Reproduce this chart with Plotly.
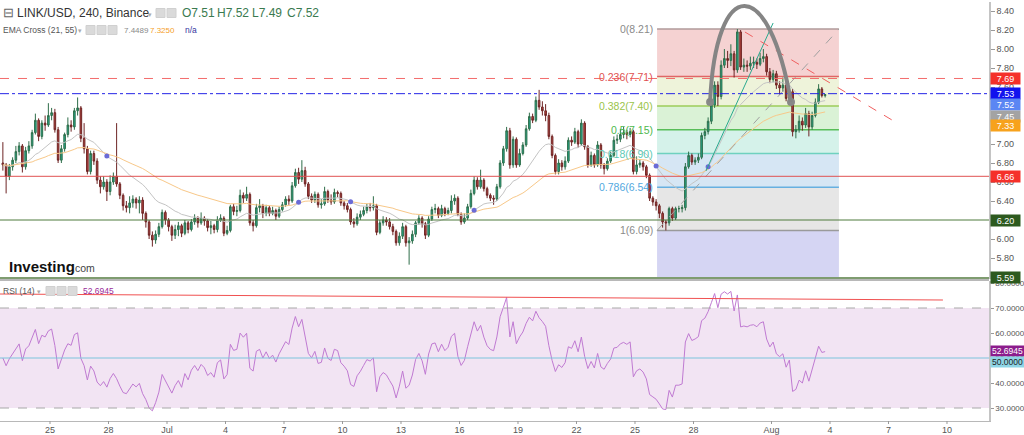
import numpy as np
import pandas as pd
import plotly.graph_objects as go

# ---------------- data ----------------
bar_start = "2020-06-22 12:00"   # first 4h bar
first_open = 6.80
closes = [
    6.78, 6.66, 6.76,                         # Jun 22
    6.83, 6.92, 6.98, 6.76, 6.93, 6.98,       # Jun 23
    7.12, 7.25, 7.08, 7.22, 7.20, 7.30,       # Jun 24
    7.33, 7.15, 6.83, 6.95, 7.10, 7.20,       # Jun 25
    7.18, 7.35, 7.38, 7.06, 6.95, 6.71,       # Jun 26
    6.90, 6.82, 6.62, 6.55, 6.60, 6.50,       # Jun 27
    6.60, 6.66, 6.58, 6.46, 6.35, 6.33,       # Jun 28
    6.38, 6.42, 6.38, 6.41, 6.27, 6.18,       # Jun 29
    6.04, 5.99, 6.05, 6.13, 6.28, 6.20,       # Jun 30
    6.13, 6.04, 6.10, 6.14, 6.06, 6.17,       # Jul 1
    6.10, 6.18, 6.22, 6.17, 6.22, 6.19,       # Jul 2
    6.12, 6.14, 6.10, 6.20, 6.22, 6.06,       # Jul 3
    6.09, 6.34, 6.29, 6.30, 6.46, 6.43,       # Jul 4
    6.47, 6.17, 6.14, 6.33, 6.35, 6.27,       # Jul 5
    6.33, 6.27, 6.30, 6.24, 6.31, 6.36,       # Jul 6
    6.42, 6.40, 6.56, 6.70, 6.63, 6.72,       # Jul 7
    6.58, 6.45, 6.41, 6.47, 6.36, 6.37,       # Jul 8
    6.50, 6.41, 6.39, 6.49, 6.48, 6.38,       # Jul 9
    6.35, 6.31, 6.18, 6.16, 6.23, 6.26,       # Jul 10
    6.30, 6.34, 6.33, 6.35, 6.07, 6.17,       # Jul 11
    6.20, 6.18, 6.13, 6.08, 5.96, 6.03,       # Jul 12
    6.13, 5.96, 5.98, 6.05, 6.17, 6.22,       # Jul 13
    6.16, 6.04, 6.21, 6.31, 6.32, 6.25,       # Jul 14
    6.32, 6.27, 6.30, 6.40, 6.43, 6.26,       # Jul 15
    6.18, 6.22, 6.34, 6.48, 6.62, 6.55,       # Jul 16
    6.62, 6.53, 6.46, 6.43, 6.42, 6.55,       # Jul 17
    6.80, 6.95, 7.14, 6.78, 7.05, 6.78,       # Jul 18
    6.90, 6.99, 7.16, 7.29, 7.25, 7.46,       # Jul 19
    7.39, 7.35, 7.30, 7.08, 6.88, 6.71,       # Jul 20
    6.80, 6.76, 6.82, 7.04, 7.02, 7.13,       # Jul 21
    7.00, 7.22, 6.97, 6.78, 6.88, 6.78,       # Jul 22
    6.99, 6.78, 6.74, 6.82, 6.88, 7.04,       # Jul 23
    7.05, 7.10, 7.12, 7.10, 7.13, 6.71,       # Jul 24
    6.78, 6.80, 6.76, 6.67, 6.43, 6.39,       # Jul 25
    6.35, 6.27, 6.18, 6.17, 6.32, 6.22,       # Jul 26
    6.32, 6.32, 6.33, 6.76, 6.88, 6.81,       # Jul 27
    6.83, 6.86, 7.09, 7.13, 7.24, 7.41,       # Jul 28
    7.62, 7.50, 7.83, 7.90, 7.88, 7.95,       # Jul 29
    7.78, 8.18, 7.81, 7.83, 7.82, 7.85,       # Jul 30
    7.86, 7.84, 7.90, 7.92, 7.76, 7.68,       # Jul 31
    7.74, 7.62, 7.59, 7.62, 7.48, 7.55,       # Aug 1
    7.13, 7.15, 7.24, 7.20, 7.32, 7.18,       # Aug 2
    7.30, 7.44, 7.58, 7.51, 7.52,             # Aug 3
]
highs = [
    7.02, 6.80, 6.79,
    6.86, 6.98, 7.02, 7.00, 6.97, 7.03,
    7.15, 7.32, 7.27, 7.25, 7.30, 7.43,
    7.38, 7.37, 7.18, 6.99, 7.12, 7.28,
    7.25, 7.38, 7.49, 7.40, 7.22, 6.98,
    6.93, 6.93, 6.85, 6.66, 6.66, 6.63,
    6.67, 6.70, 7.22, 6.60, 6.48, 6.40,
    6.45, 6.46, 6.44, 6.45, 6.44, 6.29,
    6.20, 6.08, 6.09, 6.17, 6.31, 6.30,
    6.22, 6.15, 6.15, 6.18, 6.16, 6.20,
    6.19, 6.21, 6.26, 6.24, 6.28, 6.24,
    6.21, 6.19, 6.16, 6.24, 6.26, 6.24,
    6.14, 6.36, 6.37, 6.35, 6.52, 6.49,
    6.55, 6.49, 6.20, 6.37, 6.42, 6.37,
    6.36, 6.35, 6.34, 6.32, 6.34, 6.39,
    6.45, 6.46, 6.60, 6.74, 6.75, 6.83,
    6.76, 6.60, 6.48, 6.50, 6.49, 6.42,
    6.55, 6.52, 6.47, 6.53, 6.51, 6.50,
    6.40, 6.38, 6.33, 6.22, 6.27, 6.30,
    6.34, 6.37, 6.38, 6.45, 6.37, 6.20,
    6.24, 6.23, 6.22, 6.16, 6.10, 6.07,
    6.17, 6.15, 6.02, 6.09, 6.19, 6.25,
    6.24, 6.18, 6.24, 6.34, 6.37, 6.34,
    6.36, 6.34, 6.33, 6.46, 6.47, 6.45,
    6.28, 6.27, 6.37, 6.52, 6.66, 6.65,
    6.73, 6.64, 6.55, 6.48, 6.46, 6.58,
    6.83, 6.98, 7.18, 7.17, 7.08, 7.07,
    6.95, 7.02, 7.20, 7.33, 7.32, 7.50,
    7.57, 7.45, 7.42, 7.33, 7.10, 6.90,
    6.84, 6.83, 6.87, 7.07, 7.08, 7.17,
    7.15, 7.26, 7.24, 6.99, 6.92, 6.90,
    7.03, 7.01, 6.80, 6.85, 6.92, 7.08,
    7.10, 7.16, 7.18, 7.15, 7.17, 7.15,
    6.87, 6.84, 6.82, 6.78, 6.69, 6.45,
    6.42, 6.37, 6.29, 6.20, 6.34, 6.34,
    6.34, 6.35, 6.36, 6.80, 6.92, 6.90,
    6.86, 6.90, 7.12, 7.17, 7.28, 7.45,
    7.66, 7.66, 7.88, 8.00, 7.98, 8.05,
    7.98, 8.21, 8.20, 7.90, 7.88, 7.92,
    7.92, 7.90, 7.96, 8.00, 7.95, 7.80,
    7.78, 7.77, 7.66, 7.70, 7.65, 7.60,
    7.58, 7.20, 7.30, 7.28, 7.38, 7.35,
    7.34, 7.48, 7.63, 7.60, 7.52,
]
lows = [
    6.72, 6.48, 6.62,
    6.72, 6.80, 6.88, 6.70, 6.73, 6.90,
    6.95, 7.10, 7.03, 7.05, 7.14, 7.18,
    7.25, 7.12, 6.80, 6.80, 6.92, 7.07,
    7.13, 7.15, 7.30, 7.02, 6.90, 6.68,
    6.68, 6.78, 6.58, 6.48, 6.52, 6.40,
    6.46, 6.57, 6.55, 6.42, 6.30, 6.28,
    6.27, 6.33, 6.32, 6.27, 6.20, 6.12,
    6.00, 5.92, 5.95, 6.02, 6.11, 6.15,
    6.08, 5.98, 6.00, 6.03, 6.02, 6.04,
    6.06, 6.08, 6.15, 6.12, 6.15, 6.14,
    6.08, 6.05, 6.06, 6.07, 6.18, 6.03,
    6.04, 6.07, 6.25, 6.24, 6.28, 6.38,
    6.40, 6.14, 6.08, 6.12, 6.28, 6.22,
    6.24, 6.24, 6.25, 6.20, 6.22, 6.29,
    6.34, 6.36, 6.38, 6.54, 6.58, 6.60,
    6.55, 6.42, 6.38, 6.38, 6.33, 6.32,
    6.35, 6.38, 6.36, 6.37, 6.44, 6.35,
    6.31, 6.28, 6.15, 6.12, 6.14, 6.20,
    6.24, 6.27, 6.29, 6.30, 6.04, 6.05,
    6.14, 6.14, 6.10, 6.04, 5.93, 5.93,
    6.00, 5.92, 5.73, 5.95, 6.02, 6.15,
    6.12, 6.00, 6.02, 6.19, 6.27, 6.22,
    6.23, 6.24, 6.25, 6.27, 6.36, 6.24,
    6.15, 6.16, 6.20, 6.32, 6.46, 6.52,
    6.53, 6.50, 6.43, 6.40, 6.36, 6.40,
    6.53, 6.77, 6.92, 6.74, 6.75, 6.75,
    6.76, 6.88, 6.97, 7.14, 7.22, 7.23,
    7.36, 7.30, 7.24, 7.05, 6.85, 6.68,
    6.68, 6.72, 6.73, 6.80, 6.98, 7.00,
    6.96, 6.98, 6.94, 6.75, 6.76, 6.75,
    6.76, 6.74, 6.68, 6.72, 6.80, 6.86,
    7.00, 7.02, 7.06, 7.05, 7.07, 6.68,
    6.68, 6.75, 6.72, 6.64, 6.40, 6.35,
    6.30, 6.22, 6.12, 6.09, 6.14, 6.19,
    6.20, 6.28, 6.28, 6.30, 6.74, 6.78,
    6.78, 6.80, 6.84, 7.05, 7.10, 7.21,
    7.38, 7.40, 7.47, 7.80, 7.80, 7.82,
    7.70, 7.75, 7.78, 7.76, 7.76, 7.78,
    7.80, 7.79, 7.82, 7.86, 7.72, 7.64,
    7.65, 7.58, 7.52, 7.55, 7.45, 7.42,
    7.08, 7.06, 7.12, 7.14, 7.17, 7.08,
    7.15, 7.28, 7.42, 7.49, 7.49,
]

tick_dates = ["2020-06-25", "2020-06-28", "2020-07-01", "2020-07-04", "2020-07-07",
              "2020-07-10", "2020-07-13", "2020-07-16", "2020-07-19", "2020-07-22",
              "2020-07-25", "2020-07-28", "2020-08-01", "2020-08-04", "2020-08-07",
              "2020-08-10"]
tick_text = ["25", "28", "Jul", "4", "7", "10", "13", "16", "19", "22", "25", "28",
             "Aug", "4", "7", "10"]

price_ticks = [5.8, 6.0, 6.2, 6.4, 6.6, 6.8, 7.0, 7.2, 7.4, 7.6, 7.8, 8.0, 8.2, 8.4]
rsi_ticks = [30, 40, 50, 60, 70, 80]

# header OHLC of the last bar
ohlc_labels = ["O7.51", "H7.52", "L7.49", "C7.52"]

# horizontal drawing lines (price, colour, dash, width)
hlines = [(7.69, "#f36b6b", "dash", 1), (7.53, "#2424e6", "dashdot", 1),
          (6.66, "#e05252", "solid", 1), (6.20, "#4f7a3c", "solid", 1),
          (5.59, "#7f9c70", "solid", 2)]
# price boxes on the right axis (value, background, text colour, pixel shift)
price_boxes = [(7.69, "#f5302a", "white", 0), (7.53, "#1212ee", "white", 0),
               (7.52, "#5b86f3", "white", -10), (7.45, "#a3a3a3", "white", -15),
               (7.33, "#f7a21c", "white", -13), (6.66, "#f5302a", "white", 0),
               (6.20, "#2d5a1f", "white", 0), (5.59, "#2d5a1f", "white", 0)]
rsi_boxes = [(52.6945, "#8c1c8c", "white", 0), (50.0, "#8ed5e6", "#222", -4)]

# fibonacci retracement
fib_low, fib_high = 6.09, 8.21
fib_start, fib_end = "2020-07-26 03:10", "2020-08-04 11:00"
fib_levels = [0, 0.236, 0.382, 0.5, 0.618, 0.786, 1]
fib_line_colors = ["#b09a9a", "#e06666", "#9ccc5a", "#58bd58", "#6fd1bf", "#67b0e0", "#9a9a9a"]
fib_fill_colors = ["#f5d2d2", "#eef3da", "#daf2d6", "#d5f2ea", "#d6e6f4", "#e6e6e6"]
fib_text_colors = ["#8a8a8a", "#e05050", "#9ac44a", "#4db84d", "#5ccab5", "#52a8e0", "#8a8a8a"]
fib_below_color = "#d5d5f3"

# other drawings (date, price)
teal_line = [("2020-07-28 15:20", 6.716), ("2020-08-01 02:00", 8.274)]
red_dash_line = [("2020-07-30 15:20", 8.179), ("2020-08-07 10:30", 7.221)]
arc_pts = [("2020-07-28 20:25", 7.442), ("2020-07-29 03:35", 8.79),
           ("2020-07-31 20:50", 8.79), ("2020-08-02 00:00", 7.442)]
rsi_trend = [("2020-06-22 10:28", 75.6), ("2020-08-09 19:00", 73.2)]

x_range = ["2020-06-22 10:28", "2020-08-12 03:42"]
price_range = [5.579, 8.495]
rsi_range = [24.8, 80.8]

# ---------------- helpers ----------------
REF = pd.Timestamp("2020-06-25")


def dnum(t):
    return (pd.Timestamp(t) - REF) / pd.Timedelta(days=1)


n = len(closes)
times = pd.date_range(bar_start, periods=n, freq="4h") + pd.Timedelta(hours=2)
xs = np.array([(t - REF) / pd.Timedelta(days=1) for t in times])
opens = [first_open] + closes[:-1]
c = np.array(closes)


def ema(vals, span):
    a = 2.0 / (span + 1)
    out = np.empty(len(vals))
    out[0] = vals[0]
    for i in range(1, len(vals)):
        out[i] = a * vals[i] + (1 - a) * out[i - 1]
    return out


ema21 = ema(c, 21)
ema55 = ema(c, 55)

# RSI (Wilder, 14); averages seeded neutral (history before the window is not shown)
diff = np.diff(c)
gain = np.clip(diff, 0, None)
loss = np.clip(-diff, 0, None)
rsi = np.full(n, np.nan)
P = 14
ag = al = 0.07
rsi[0] = 50.0
for i in range(1, n):
    ag = (ag * (P - 1) + gain[i - 1]) / P
    al = (al * (P - 1) + loss[i - 1]) / P
    rsi[i] = 100 * ag / (ag + al)

# EMA crosses (after warm-up)
d = ema21 - ema55
cross_idx = [i for i in range(15, n) if np.sign(d[i]) != np.sign(d[i - 1]) and d[i - 1] != 0]

# ---------------- figure ----------------
W, H = 1024, 435
ML, MR, MT, MB = 0, 35, 2, 14
PW, PH = W - ML - MR, H - MT - MB
P_TOP, P_BOT = 2, 279
R_TOP, R_BOT = 281, 421


def ppx(px):
    return (px - ML) / PW


def ppy(py):
    return (H - MB - py) / PH


fig = go.Figure()

fig.add_trace(go.Candlestick(
    x=xs, open=opens, high=highs, low=lows, close=closes,
    increasing=dict(line=dict(color="#2f6e4a", width=1), fillcolor="#22a88e"),
    decreasing=dict(line=dict(color="#6e2424", width=1), fillcolor="#b5443d"),
    whiskerwidth=0, xaxis="x", yaxis="y", showlegend=False, hoverinfo="skip"))

fig.add_trace(go.Scatter(x=xs, y=ema21, mode="lines", line=dict(color="#c4c4c4", width=1),
                         xaxis="x", yaxis="y", showlegend=False, hoverinfo="skip"))
fig.add_trace(go.Scatter(x=xs, y=ema55, mode="lines", line=dict(color="#f8c889", width=1),
                         xaxis="x", yaxis="y", showlegend=False, hoverinfo="skip"))
fig.add_trace(go.Scatter(x=[xs[i] for i in cross_idx], y=[ema21[i] for i in cross_idx],
                         mode="markers", marker=dict(color="#6b6bd6", size=5, symbol="circle"),
                         xaxis="x", yaxis="y", showlegend=False, hoverinfo="skip"))

# arc end points
fig.add_trace(go.Scatter(x=[dnum(arc_pts[0][0]), dnum(arc_pts[3][0])],
                         y=[arc_pts[0][1], arc_pts[3][1]], mode="markers",
                         marker=dict(color="#888888", size=8), xaxis="x", yaxis="y",
                         showlegend=False, hoverinfo="skip"))

fig.add_trace(go.Scatter(x=xs, y=rsi, mode="lines", line=dict(color="#c07ad2", width=1),
                         xaxis="x2", yaxis="y2", showlegend=False, hoverinfo="skip"))

shapes = []
# fib fills
fx0, fx1 = dnum(fib_start), dnum(fib_end)
lv_prices = [fib_high - l * (fib_high - fib_low) for l in fib_levels]
for k in range(len(fib_levels) - 1):
    shapes.append(dict(type="rect", xref="x", yref="y", x0=fx0, x1=fx1,
                       y0=lv_prices[k + 1], y1=lv_prices[k], fillcolor=fib_fill_colors[k],
                       line=dict(width=0), layer="below"))
shapes.append(dict(type="rect", xref="x", yref="y", x0=fx0, x1=fx1, y0=5.0, y1=fib_low,
                   fillcolor=fib_below_color, line=dict(width=0), layer="below"))
for k, p in enumerate(lv_prices):
    shapes.append(dict(type="line", xref="x", yref="y", x0=fx0, x1=fx1, y0=p, y1=p,
                       line=dict(color=fib_line_colors[k], width=1.5), layer="below"))
# fib diagonal
shapes.append(dict(type="line", xref="x", yref="y", x0=fx0, y0=fib_low, x1=fx1, y1=fib_high,
                   line=dict(color="#a0a0a0", width=1, dash="dash")))
# horizontal lines
for p, col, dash, wd in hlines:
    shapes.append(dict(type="line", xref="paper", yref="y", x0=0, x1=1, y0=p, y1=p,
                       line=dict(color=col, width=wd, dash=dash)))
# teal & red dashed trend lines
shapes.append(dict(type="line", xref="x", yref="y",
                   x0=dnum(teal_line[0][0]), y0=teal_line[0][1],
                   x1=dnum(teal_line[1][0]), y1=teal_line[1][1],
                   line=dict(color="#2aa98f", width=1)))
shapes.append(dict(type="line", xref="x", yref="y",
                   x0=dnum(red_dash_line[0][0]), y0=red_dash_line[0][1],
                   x1=dnum(red_dash_line[1][0]), y1=red_dash_line[1][1],
                   line=dict(color="#f06060", width=1, dash="dash")))
# arc
a = [(dnum(t), v) for t, v in arc_pts]
shapes.append(dict(type="path", xref="x", yref="y",
                   path=f"M {a[0][0]},{a[0][1]} C {a[1][0]},{a[1][1]} {a[2][0]},{a[2][1]} {a[3][0]},{a[3][1]}",
                   line=dict(color="#858585", width=4)))
# RSI band and levels
shapes.append(dict(type="rect", xref="paper", yref="y2", x0=0, x1=1, y0=30, y1=70,
                   fillcolor="#f2e4f3", line=dict(width=0), layer="below"))
for lv, col, dash in [(70, "#a8a8a8", "dash"), (30, "#a8a8a8", "dash"), (50, "#7cc4dc", "solid")]:
    shapes.append(dict(type="line", xref="paper", yref="y2", x0=0, x1=1, y0=lv, y1=lv,
                       line=dict(color=col, width=1, dash=dash)))
shapes.append(dict(type="line", xref="x2", yref="y2",
                   x0=dnum(rsi_trend[0][0]), y0=rsi_trend[0][1],
                   x1=dnum(rsi_trend[1][0]), y1=rsi_trend[1][1],
                   line=dict(color="#f05050", width=1)))
# pane separator
shapes.append(dict(type="line", xref="paper", yref="paper", x0=0, x1=1,
                   y0=ppy(280), y1=ppy(280), line=dict(color="#b8b8b8", width=2)))
# x tick marks below the bottom axis
tick_x = [dnum(t) for t in tick_dates]
for tx in tick_x:
    shapes.append(dict(type="line", xref="x2", yref="paper", x0=tx, x1=tx,
                       y0=ppy(421), y1=ppy(424), line=dict(color="#999", width=1)))

# header icons (small grey squares)
for x0 in [156, 167, 86, 97, 108]:
    yc = 13 if x0 > 150 else 30
    shapes.append(dict(type="rect", xref="paper", yref="paper", x0=ppx(x0), x1=ppx(x0 + 9),
                       y0=ppy(yc + 4.5), y1=ppy(yc - 4.5), fillcolor="#dadada",
                       line=dict(color="#d0d0d0", width=1)))
for x0 in [46, 57, 68]:
    shapes.append(dict(type="rect", xref="paper", yref="paper", x0=ppx(x0), x1=ppx(x0 + 9),
                       y0=ppy(295.5), y1=ppy(286.5), fillcolor="#dadada",
                       line=dict(color="#d0d0d0", width=1)))

FONT = "Liberation Sans, Arial, sans-serif"
ann = []


def txt(px, py, s, size, color, anchor="left", bold=False):
    ann.append(dict(xref="paper", yref="paper", x=ppx(px), y=ppy(py), text=(f"<b>{s}</b>" if bold else s),
                    showarrow=False, xanchor=anchor, yanchor="middle",
                    font=dict(family=FONT, size=size, color=color)))


txt(1, 13, "⊟", 13, "#666")
txt(15, 13, "LINK/USD, 240, Binance", 12, "#333")
txt(146, 14, "▾", 7, "#aaa")
for k, s in enumerate(ohlc_labels):
    txt(180 + 35 * k, 13, s, 12, "#3a7a4f")
txt(1, 30, "EMA Cross (21, 55)", 8.5, "#555")
txt(76, 30, "▾", 7, "#aaa")
txt(122, 30, "7.4489", 8, "#8a8a8a")
txt(148, 30, "7.3250", 8, "#f5a02a")
txt(183, 30, "n/a", 8.5, "#3535a0")
txt(1, 291, "RSI (14)", 8.5, "#555")
txt(35, 291, "▾", 7, "#aaa")
txt(81, 291, "52.6945", 8.5, "#9a2a9a")
txt(7, 266, "Investing", 15, "#111", bold=True)
txt(70, 268, ".com", 10.5, "#444")

# fib labels
for k, p in enumerate(lv_prices):
    ann.append(dict(xref="x", yref="y", x=fx0, y=p, xanchor="right", yanchor="middle",
                    xshift=-2, text=f"{fib_levels[k]:g}({p:.2f})", showarrow=False,
                    font=dict(family=FONT, size=10.5, color=fib_text_colors[k])))

# price boxes
for v, bg, fc, sh in price_boxes:
    ann.append(dict(xref="paper", yref="y", x=1, y=v, xanchor="left", yanchor="middle",
                    xshift=1, yshift=sh, text=f"{v:.2f}", showarrow=False, bgcolor=bg,
                    width=29, height=11, borderpad=0,
                    font=dict(family=FONT, size=9, color=fc)))
for v, bg, fc, sh in rsi_boxes:
    ann.append(dict(xref="paper", yref="y2", x=1, y=v, xanchor="left", yanchor="middle",
                    xshift=1, yshift=sh, text=f"{v:.4f}", showarrow=False, bgcolor=bg,
                    width=33, height=10, borderpad=0,
                    font=dict(family=FONT, size=8.5, color=fc)))

xr = [dnum(x_range[0]), dnum(x_range[1])]

fig.update_layout(
    width=W, height=H, margin=dict(l=ML, r=MR, t=MT, b=MB, autoexpand=False),
    paper_bgcolor="white", plot_bgcolor="white", showlegend=False,
    shapes=shapes, annotations=ann,
    font=dict(family=FONT, size=9, color="#555"),
    xaxis=dict(domain=[0, 1], range=xr, anchor="y", showticklabels=False, showgrid=False,
               zeroline=False, rangeslider=dict(visible=False), showline=False,
               tickvals=tick_x, ticks=""),
    xaxis2=dict(domain=[0, 1], range=xr, anchor="y2", matches="x", tickvals=tick_x,
                ticktext=tick_text, showgrid=False, zeroline=False, ticks="",
                showline=True, linecolor="#b8b8b8",
                linewidth=1, tickfont=dict(size=9, color="#555")),
    yaxis=dict(domain=[ppy(P_BOT), ppy(P_TOP)], range=price_range, side="right",
               anchor="x", tickvals=price_ticks, ticktext=[f"{v:.2f}" for v in price_ticks],
               ticks="outside", ticklen=4, tickcolor="#999", showgrid=False, zeroline=False,
               showline=True, linecolor="#c4c4c4", linewidth=1.5,
               tickfont=dict(size=9, color="#555")),
    yaxis2=dict(domain=[ppy(R_BOT), ppy(R_TOP)], range=rsi_range, side="right",
                anchor="x2", tickvals=rsi_ticks, ticktext=[f"{v:.4f}" for v in rsi_ticks],
                ticks="outside", ticklen=3, tickcolor="#999", showgrid=False, zeroline=False,
                showline=True, linecolor="#c4c4c4", linewidth=1.5,
                tickfont=dict(size=8, color="#555")),
)

fig.write_html("out.html", config={"displayModeBar": False},
               post_script="document.body.style.margin='0px';document.body.style.overflow='hidden';")
